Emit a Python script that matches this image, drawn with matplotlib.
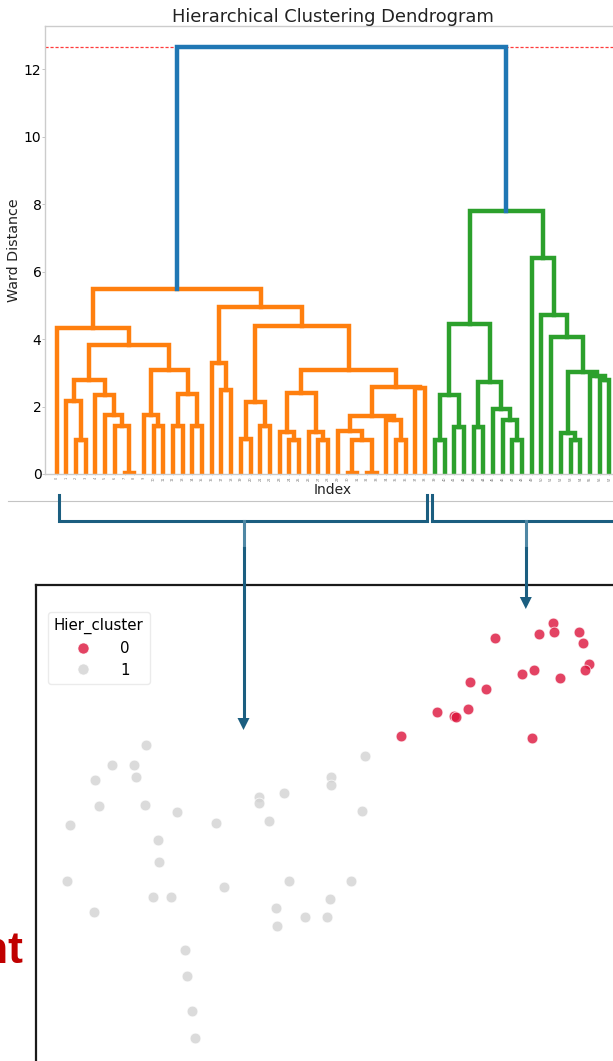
import numpy as np
import matplotlib.pyplot as plt
from matplotlib.lines import Line2D

W, H = 613, 1061

# dendrogram: 58 leaves in plotted order, merges as (left id, right id, ward height)
n_leaves = 58
link_left = [7, 2, 1, 6, 5, 4, 60, 10, 9, 12, 14, 67, 66, 64, 0,
             17, 16, 19, 21, 75, 24, 23, 27, 26, 79, 30, 32, 83, 29, 35,
             34, 86, 37, 89, 82, 77, 74, 72,
             39, 41, 96, 43, 47, 46, 45, 99, 98, 53, 52, 56, 55, 106,
             51, 50, 49, 104, 95]
link_right = [8, 3, 59, 58, 61, 62, 63, 11, 65, 13, 15, 68, 69, 70, 71,
              18, 73, 20, 22, 76, 25, 78, 28, 80, 81, 31, 33, 84, 85, 36,
              87, 88, 38, 90, 91, 92, 93, 94,
              40, 42, 97, 44, 48, 100, 101, 102, 103, 54, 105, 57, 107, 108,
              109, 110, 111, 112, 113]
link_height = [0.03, 1.00, 2.16, 1.41, 1.75, 2.33, 2.80, 1.43, 1.76, 1.43, 1.43, 2.38, 3.07, 3.82, 4.32,
               2.48, 3.30, 1.03, 1.43, 2.13, 1.00, 1.26, 1.00, 1.26, 2.40, 0.03, 0.03, 1.00, 1.28, 1.00,
               1.60, 1.73, 2.55, 2.58, 3.07, 4.39, 4.96, 5.48,
               1.00, 1.40, 2.33, 1.40, 1.00, 1.60, 1.93, 2.73, 4.45, 1.00, 1.23, 2.78, 2.92, 3.02,
               4.05, 4.72, 6.39, 7.80, 12.65]
leaf_labels = list(range(n_leaves))
cut_height = 12.65

# scatter of the two clusters
gray_x = [-2.30, -2.72, -2.45, -2.94, -2.42, -3.25, -2.89, -2.31, -1.91, -2.15, -2.14, -1.42,
          -0.89, -0.89, -0.58, -0.76, 0.01, 0.01, 0.44, 0.40, -3.29, -2.95, -2.21, -1.99,
          -1.32, -0.51, 0.26, -0.68, 0.00, -0.31, -0.04, -0.66, -1.81, -1.79, -1.72, -1.69]
gray_y = [0.69, 0.44, 0.44, 0.25, 0.29, -0.31, -0.08, -0.06, -0.15, -0.50, -0.78, -0.29,
          0.03, -0.04, 0.09, -0.26, 0.29, 0.19, 0.55, -0.14, -1.01, -1.40, -1.22, -1.22,
          -1.09, -1.02, -1.02, -1.35, -1.24, -1.46, -1.46, -1.58, -1.88, -2.20, -2.64, -2.98]
red_x = [2.79, 2.80, 2.06, 2.61, 3.11, 3.16, 3.24, 3.19, 2.40, 2.55, 2.87, 1.75, 1.95,
         1.34, 1.55, 1.57, 1.72, 0.89, 2.53]
red_y = [2.21, 2.10, 2.02, 2.07, 2.10, 1.96, 1.70, 1.62, 1.57, 1.62, 1.53, 1.48, 1.39,
         1.10, 1.05, 1.04, 1.14, 0.80, 0.78]

C_ORANGE, C_GREEN, C_BLUE = '#ff7f0e', '#2ca02c', '#1f77b4'
C_RED, C_GRAY = '#DC143C', '#D3D3D3'
C_ARROW = '#1b5e80'

fig = plt.figure(figsize=(W / 100, H / 100), dpi=100)

# ---- dendrogram ----
ax = fig.add_axes([45 / W, 1 - 474 / H, 576 / W, 448 / H])
xpos = {i: 5 + 10 * i for i in range(n_leaves)}
ypos = {i: 0.0 for i in range(n_leaves)}
children = {}
for j, (a, b, h) in enumerate(zip(link_left, link_right, link_height)):
    k = n_leaves + j
    xpos[k] = (xpos[a] + xpos[b]) / 2
    ypos[k] = h
    children[k] = (a, b)

# color clusters below the threshold, links above it in blue
root = n_leaves + len(link_height) - 1
threshold = 0.7 * max(link_height)
colors = {}
palette = iter([C_ORANGE, C_GREEN, '#d62728', '#9467bd'])


def paint(node, col):
    if node < n_leaves:
        return
    if col is None and ypos[node] < threshold:
        col = next(palette)
    colors[node] = col if col is not None else C_BLUE
    for c in children[node]:
        paint(c, col)


paint(root, None)
for k, (a, b) in children.items():
    ax.plot([xpos[a], xpos[a], xpos[b], xpos[b]], [ypos[a], ypos[k], ypos[k], ypos[b]],
            color=colors[k], lw=3.2, solid_joinstyle='miter')

ax.axhline(cut_height, color='#ff3b3b', lw=0.9, ls=(0, (2.5, 1.5)), zorder=0)
ax.set_xlim(-7, 10 * n_leaves + 7)
ax.set_ylim(0, 1.05 * max(link_height))
ax.set_xticks([xpos[i] for i in range(n_leaves)])
ax.set_xticklabels(leaf_labels, rotation=90, fontsize=2.5, color='#777777')
ax.set_yticks(range(0, 13, 2))
ax.tick_params(axis='y', labelsize=10, length=2, width=0.6, color='#bbbbbb', pad=0.5)
ax.tick_params(axis='x', length=1, width=0.4, color='#bbbbbb', pad=1)
for s in ax.spines.values():
    s.set_color('#cccccc')
    s.set_linewidth(1)
ax.set_title('Hierarchical Clustering Dendrogram', fontsize=12.9, pad=2, color='#222222')
ax.set_xlabel('Index', fontsize=10, labelpad=1, color='#222222')
ax.set_ylabel('Ward Distance', fontsize=10.3, labelpad=2, color='#222222')

# ---- scatter of the clusters ----
sx = fig.add_axes([36 / W, -0.06, 1.0, 1 - 585 / H + 0.06])
sx.scatter(gray_x, gray_y, s=60, color=C_GRAY, alpha=0.8, edgecolor='white', linewidth=0.6)
sx.scatter(red_x, red_y, s=60, color=C_RED, alpha=0.8, edgecolor='white', linewidth=0.6)
sx.set_xlim((36 - 330) / 80, (36 + 613 - 330) / 80)
sx.set_ylim((800 - 1125) / 80, (800 - 585) / 80)
sx.set_xticks([])
sx.set_yticks([])
for s in sx.spines.values():
    s.set_color('#1a1a1a')
    s.set_linewidth(1.6)
handles = [Line2D([], [], ls='', marker='o', ms=8, color=C_RED, alpha=0.8, mec='white', mew=0.6),
           Line2D([], [], ls='', marker='o', ms=8, color=C_GRAY, alpha=0.8, mec='white', mew=0.6)]
sx.legend(handles, ['0', '1'], title='Hier_cluster', fontsize=10.8, title_fontsize=10.8,
          loc='upper left', bbox_to_anchor=(48 / W, 1 - 612 / H), bbox_transform=fig.transFigure,
          borderaxespad=0, handletextpad=1.5, labelspacing=0.45, borderpad=0.4,
          framealpha=0.8, edgecolor='#e6e6e6')

# ---- brackets and arrows linking clusters to the scatter ----
ov = fig.add_axes([0, 0, 1, 1], zorder=5)
ov.set_xlim(0, W)
ov.set_ylim(H, 0)
ov.axis('off')
ov.patch.set_alpha(0)
ov.plot([8, W], [501, 501], color='#c4c4c4', lw=0.8)
ov.plot([59, 59, 427, 427], [495, 521, 521, 495], color=C_ARROW, lw=2.2, solid_joinstyle='miter')
ov.plot([432, 432, W + 5], [495, 521, 521], color=C_ARROW, lw=2.2, solid_joinstyle='miter')
for x0, y1 in [(243.5, 730), (525.8, 609)]:
    ov.plot([x0, x0], [521, 548], color='#4f87a4', lw=2.2)
    ov.plot([x0, x0], [548, y1 - 10], color=C_ARROW, lw=2.2)
    ov.fill([x0 - 6, x0 + 6, x0], [y1 - 12, y1 - 12, y1], color=C_ARROW, lw=0)

fig.text(23 / W, 1 - 963 / H, 'nt', fontsize=32, fontweight='bold', color='#c00000',
         family='Liberation Sans', ha='right', va='baseline')

fig.savefig('out.png', dpi=100)
